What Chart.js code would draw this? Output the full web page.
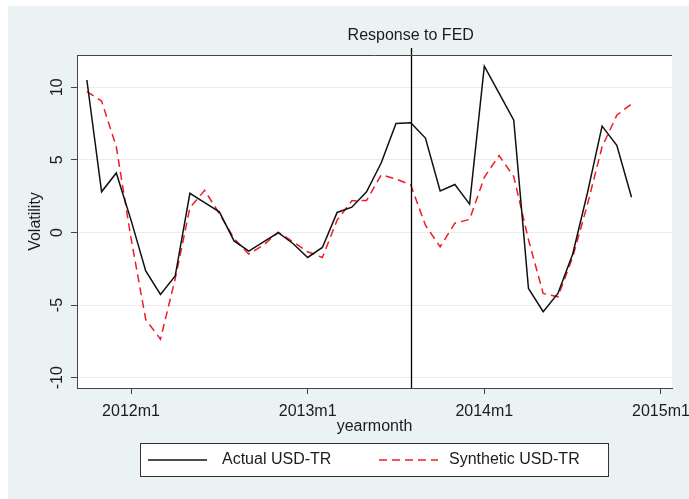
<!DOCTYPE html>
<html lang="en">
<head>
<meta charset="UTF-8">
<title>Actual vs synthetic USD-TR volatility</title>
<script src="https://cdn.jsdelivr.net/npm/chart.js"></script>
<style>
  html, body { margin: 0; padding: 0; background: #fff; }
  canvas { display: block; }
</style>
</head>
<body>
<canvas id="chart" width="689" height="499"></canvas>
<script>
  const months = ['2011m10', '2011m11', '2011m12',
    '2012m1', '2012m2', '2012m3', '2012m4', '2012m5', '2012m6', '2012m7', '2012m8', '2012m9', '2012m10', '2012m11', '2012m12',
    '2013m1', '2013m2', '2013m3', '2013m4', '2013m5', '2013m6', '2013m7', '2013m8', '2013m9', '2013m10', '2013m11', '2013m12',
    '2014m1', '2014m2', '2014m3', '2014m4', '2014m5', '2014m6', '2014m7', '2014m8', '2014m9', '2014m10', '2014m11'];
  const actual = [10.5, 2.8, 4.1,
    0.85, -2.65, -4.27, -3.0, 2.7, 2.06, 1.42, -0.58, -1.29, -0.64, -0.02, -0.76,
    -1.72, -1.03, 1.38, 1.74, 2.8, 4.8, 7.5, 7.55, 6.5, 2.86, 3.3, 1.95,
    11.45, 9.59, 7.73, -3.86, -5.45, -4.2, -1.5, 2.7, 7.32, 6.0, 2.43];
  const synthetic = [9.7, 9.05, 5.9,
    -0.4, -6.0, -7.35, -3.2, 1.7, 2.9, 1.3, -0.42, -1.49, -0.87, 0.02, -0.64,
    -1.33, -1.72, 0.85, 2.18, 2.2, 3.97, 3.68, 3.28, 0.5, -0.99, 0.64, 0.9,
    3.8, 5.3, 3.85, -0.5, -4.2, -4.43, -1.7, 1.9, 5.9, 8.07, 8.85];
  const seriesNames = ['Actual USD-TR', 'Synthetic USD-TR'];
  const xTickLabels = ['2012m1', '2013m1', '2014m1', '2015m1'];
  const yTickValues = [-10, -5, 0, 5, 10];
  const eventMonth = '2013m8';
  const eventText = 'Response to FED';

  const FONT = '"Liberation Sans", Arial, Helvetica, sans-serif';
  const INK = '#1c1c1c';
  const RED = '#ee1c25';

  // months counted from 2012m1
  function monthIndex(s) {
    const [y, m] = s.split('m').map(Number);
    return (y - 2012) * 12 + (m - 1);
  }

  const stataLook = {
    id: 'stataLook',
    beforeDraw(chart) {
      const { ctx, chartArea: a, width, height } = chart;
      ctx.save();
      ctx.fillStyle = '#fff';
      ctx.fillRect(0, 0, width, height);
      ctx.fillStyle = '#eaf2f3';
      ctx.fillRect(8, 6, width - 8, height - 6);
      ctx.fillStyle = '#fff';
      ctx.fillRect(a.left, a.top, a.right - a.left, a.bottom - a.top);
      ctx.restore();
    },
    afterDatasetsDraw(chart) {
      const { ctx, chartArea: a } = chart;
      const x = Math.round(chart.scales.x.getPixelForValue(monthIndex(eventMonth))) + 0.5;
      ctx.save();
      ctx.strokeStyle = '#000';
      ctx.lineWidth = 1.3;
      ctx.beginPath();
      ctx.moveTo(x, a.bottom);
      ctx.lineTo(x, a.top - 7);
      ctx.stroke();
      ctx.restore();
    },
    afterDraw(chart) {
      const { ctx, chartArea: a } = chart;
      const y = chart.scales.y;
      ctx.save();
      // top frame line
      ctx.strokeStyle = '#444';
      ctx.lineWidth = 1;
      ctx.beginPath();
      ctx.moveTo(a.left, a.top + 0.5);
      ctx.lineTo(a.right, a.top + 0.5);
      ctx.stroke();

      ctx.fillStyle = INK;
      ctx.textAlign = 'center';
      ctx.textBaseline = 'middle';

      // rotated y tick labels
      ctx.font = '16px ' + FONT;
      y.ticks.forEach(t => {
        ctx.save();
        ctx.translate(58, y.getPixelForValue(t.value));
        ctx.rotate(-Math.PI / 2);
        ctx.fillText(String(t.value), 0, 0);
        ctx.restore();
      });
      // y title
      ctx.save();
      ctx.translate(36, (a.top + a.bottom) / 2);
      ctx.rotate(-Math.PI / 2);
      ctx.fillText('Volatility', 0, 0);
      ctx.restore();

      // x title and event label
      ctx.fillText('yearmonth', (a.left + a.right) / 2, 427);
      const ex = chart.scales.x.getPixelForValue(monthIndex(eventMonth));
      ctx.fillText(eventText, ex, 36);

      // legend
      const bx = 140.5, by = 443.5, bw = 468, bh = 33, ly = by + bh / 2;
      ctx.fillStyle = '#fff';
      ctx.fillRect(bx, by, bw, bh);
      ctx.strokeStyle = '#333';
      ctx.strokeRect(bx, by, bw, bh);
      const ds = chart.data.datasets;
      [[148, 222], [379, 449]].forEach(([sx, tx], i) => {
        ctx.strokeStyle = ds[i].borderColor;
        ctx.lineWidth = 1.5;
        ctx.setLineDash(ds[i].borderDash || []);
        ctx.beginPath();
        ctx.moveTo(sx, ly);
        ctx.lineTo(sx + 59, ly);
        ctx.stroke();
        ctx.setLineDash([]);
        ctx.fillStyle = INK;
        ctx.textAlign = 'left';
        ctx.fillText(ds[i].label, tx, ly);
      });
      ctx.restore();
    }
  };

  new Chart(document.getElementById('chart'), {
    type: 'line',
    data: {
      datasets: [{
        label: seriesNames[0],
        data: months.map((m, i) => ({ x: monthIndex(m), y: actual[i] })),
        borderColor: '#111',
        borderWidth: 1.5,
        pointRadius: 0,
        tension: 0
      }, {
        label: seriesNames[1],
        data: months.map((m, i) => ({ x: monthIndex(m), y: synthetic[i] })),
        borderColor: RED,
        borderWidth: 1.5,
        borderDash: [8, 5],
        pointRadius: 0,
        tension: 0
      }]
    },
    options: {
      responsive: false,
      animation: false,
      events: [],
      layout: { padding: { left: 0, top: 55, right: 17, bottom: 0 } },
      plugins: { legend: { display: false }, title: { display: false }, tooltip: { enabled: false } },
      scales: {
        x: {
          type: 'linear',
          min: -3.67,
          max: 36.75,
          afterBuildTicks: s => { s.ticks = xTickLabels.map(l => ({ value: monthIndex(l) })); },
          afterFit: s => { s.height = 111; s.paddingLeft = 0; s.paddingRight = 0; },
          grid: { drawOnChartArea: false, drawTicks: true, tickLength: 6, tickColor: '#444' },
          border: { color: '#444', width: 1 },
          ticks: {
            autoSkip: false,
            maxRotation: 0,
            padding: 8,
            color: INK,
            font: { family: FONT, size: 16 },
            callback: (v, i) => xTickLabels[i]
          }
        },
        y: {
          type: 'linear',
          min: -10.71,
          max: 12.22,
          afterBuildTicks: s => { s.ticks = yTickValues.map(v => ({ value: v })); },
          afterFit: s => { s.width = 77; s.paddingTop = 0; s.paddingBottom = 0; },
          grid: { color: '#ececec', lineWidth: 1, drawTicks: true, tickLength: 6, tickColor: '#444' },
          border: { color: '#444', width: 1 },
          ticks: { display: false }
        }
      }
    },
    plugins: [stataLook]
  });
</script>
</body>
</html>
